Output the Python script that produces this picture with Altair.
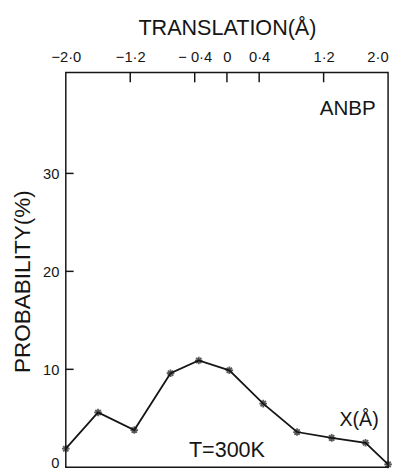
import altair as alt
import pandas as pd

# data
translation = [-2.0, -1.6, -1.15, -0.7, -0.35, 0.03, 0.45, 0.87, 1.3, 1.72, 2.0]
probability = [1.9, 5.6, 3.8, 9.6, 10.9, 9.9, 6.5, 3.6, 3.0, 2.5, 0.3]

x_tick_values = [-2.0, -1.2, -0.4, 0.0, 0.4, 1.2, 2.0]
x_tick_labels = ["\u22122\u00b70", "\u22121\u00b72", "\u2212 0\u00b74", "0", "0\u00b74", "1\u00b72", "2\u00b70"]
y_tick_values = [0, 10, 20, 30]
y_inner_ticks = [10, 20, 30]
x_inner_ticks = [-1.2, -0.4, 0.0, 0.4, 1.2]

ann_text = ["ANBP", "T=300K", "X(\u00c5)"]
ann_x = [1.5, 0.0, 1.64]
ann_y = [36.0, 1.1, 4.2]
ann_size = [21, 22, 20]

FONT = "Liberation Sans"
INK = "#151515"

df = pd.DataFrame({"t": translation, "p": probability})
ann = pd.DataFrame({"txt": ann_text, "x": ann_x, "y": ann_y, "s": ann_size})
yt = pd.DataFrame({"v": y_inner_ticks})
xt = pd.DataFrame({"v": x_inner_ticks})

xscale = alt.Scale(domain=[-2.0, 2.0], nice=False, zero=False)
yscale = alt.Scale(domain=[0, 40.3], nice=False, zero=False)

label_expr = "[" + ",".join("'" + s + "'" for s in x_tick_labels) + "][indexof([" + \
    ",".join(repr(v) for v in x_tick_values) + "], datum.value)]"

x_axis = alt.Axis(
    orient="top", values=x_tick_values, labelExpr=label_expr, ticks=False, domain=False,
    grid=False, title="TRANSLATION(\u00c5)", titleFont=FONT, titleFontSize=22,
    titleFontWeight="normal", titleColor=INK, titlePadding=11,
    labelFont=FONT, labelFontSize=15, labelColor=INK, labelPadding=8,
    labelAlign=alt.condition("datum.value >= 2", alt.value("right"), alt.value("center")),
)
y_axis = alt.Axis(
    values=y_tick_values, ticks=False, domain=False, grid=False,
    title="PROBABILITY(%)", titleFont=FONT, titleFontSize=23, titleFontWeight="normal",
    titleColor=INK, titlePadding=8, titleY=213, labelFont=FONT, labelFontSize=15,
    labelColor=INK, labelPadding=7,
    labelBaseline=alt.condition("datum.value == 0", alt.value("alphabetic"), alt.value("middle")),
)

base = alt.Chart(df)
line = base.mark_line(color=INK, strokeWidth=1.8).encode(
    x=alt.X("t:Q", scale=xscale, axis=x_axis),
    y=alt.Y("p:Q", scale=yscale, axis=y_axis),
)
star = "M-1,0L1,0M0,-1L0,1M-0.7,-0.7L0.7,0.7M-0.7,0.7L0.7,-0.7"
points = base.mark_point(shape=star, filled=False, stroke=INK, strokeWidth=1.8, size=60).encode(
    x=alt.X("t:Q", scale=xscale),
    y=alt.Y("p:Q", scale=yscale),
)
yticks = alt.Chart(yt).mark_rule(color=INK, strokeWidth=1.5).encode(
    y=alt.Y("v:Q", scale=yscale), x=alt.value(0), x2=alt.value(8)
)
xticks = alt.Chart(xt).mark_rule(color=INK, strokeWidth=1.5).encode(
    x=alt.X("v:Q", scale=xscale), y=alt.value(0), y2=alt.value(10)
)
texts = alt.Chart(ann).mark_text(font=FONT, color=INK, align="center", baseline="alphabetic").encode(
    x=alt.X("x:Q", scale=xscale),
    y=alt.Y("y:Q", scale=yscale),
    text="txt:N",
    size=alt.Size("s:Q", scale=None, legend=None),
)

chart = alt.layer(line, points, yticks, xticks, texts).properties(
    width=329, height=403,
    autosize=alt.AutoSizeParams(type="none"),
    padding={"left": 59, "top": 61, "right": 4, "bottom": 2},
).configure(
    background="white",
    view=alt.ViewConfig(stroke=INK, strokeWidth=1.5),
)

chart.save("out.html", embed_options={"renderer": "svg", "actions": False})
